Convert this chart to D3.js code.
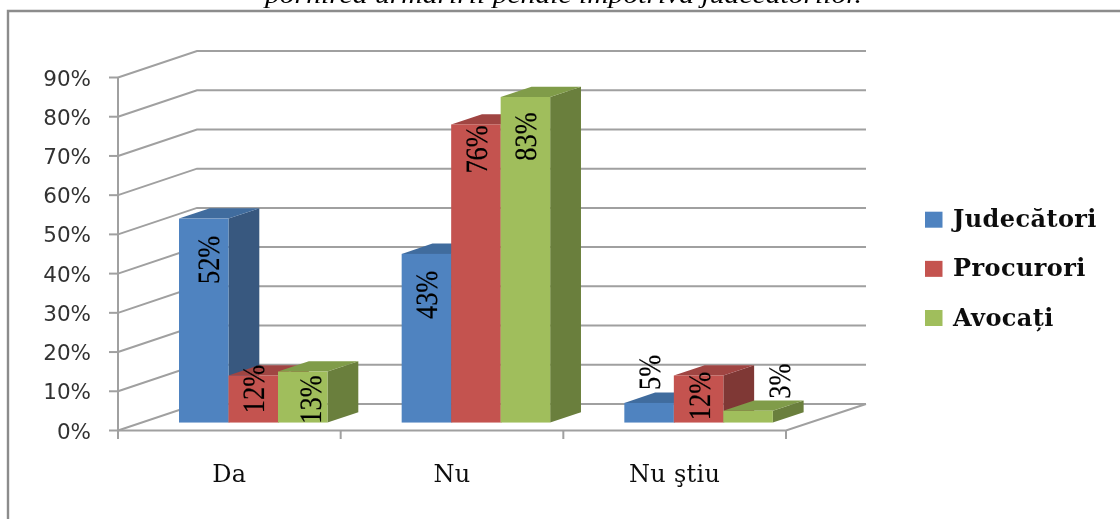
<!DOCTYPE html>
<html><head><meta charset="utf-8">
<script src="https://cdn.jsdelivr.net/npm/d3@7/dist/d3.min.js"></script>
<style>html,body{margin:0;padding:0;background:#fff}svg{display:block}</style>
</head><body><svg id="c" width="1120" height="519"></svg>
<script>
const categories = ["Da", "Nu", "Nu ştiu"];
const seriesNames = ["Judecători", "Procurori", "Avocați"];
const judecatori = [52, 43, 5];
const procurori = [12, 76, 12];
const avocati = [13, 83, 3];
const yTicks = [0, 10, 20, 30, 40, 50, 60, 70, 80, 90];
const titleText = "pornirea urmăririi penale împotriva judecătorilor.";
const front = ["#5083C0", "#C4534F", "#A0BE5C"];
const side = ["#38587F", "#7F3735", "#6A7F3D"];
const topc = ["#416C9E", "#A04443", "#809C49"];

// label placement relative to each bar's centre and top edge: [series][category]
const labelDx = [[4.5, 0.5, 0.5], [0.5, 0.5, 1], [7.5, 0, 31.5]];
const labelDy = [[41.3, 41, -30.5], [13.5, 25, 20.5], [28, 39.5, -29.7]];

const series = [judecatori, procurori, avocati];
const svg = d3.select("#c");
const defs = svg.append("defs");
defs.append("filter").attr("id", "soft").attr("x", "-5%").attr("y", "-5%").attr("width", "110%").attr("height", "110%")
  .append("feGaussianBlur").attr("stdDeviation", 0.45);
const g = svg.append("g").attr("filter", "url(#soft)");

const y = d3.scaleLinear().domain([0, 90]).range([430.5, 77.5]);
const x = d3.scaleBand().domain(categories).range([118, 786]);
const sub = d3.scaleBand().domain(d3.range(3)).range([61, 61 + 148.5]);
const depthX = d3.scaleLinear().domain([0, 1]).range([0, 79]);
const depthY = d3.scaleLinear().domain([0, 1]).range([0, -26.5]);
const grey = "#a0a0a0";

// title fragment and frame
g.append("text").attr("x", 265).attr("y", 3)
  .attr("font-family", "Liberation Serif").attr("font-style", "italic").attr("font-size", 26)
  .attr("textLength", 597).attr("lengthAdjust", "spacingAndGlyphs")
  .attr("fill", "#000").text(titleText);
g.append("path").attr("d", "M8,519V11H1120").attr("fill", "none").attr("stroke", "#8c8c8c").attr("stroke-width", 2.4);

// walls
const gridG = g.append("g").attr("fill", "none").attr("stroke", grey).attr("stroke-width", 2);
yTicks.forEach(t => {
  const yy = y(t), bx = x.range()[0] + depthX(1), by = yy + depthY(1);
  gridG.append("path").attr("d", d3.line()([[x.range()[0], yy], [bx, by], [866, by]]));
  gridG.append("path").attr("d", d3.line()([[109, yy], [x.range()[0], yy]]));
});
gridG.append("path").attr("d", d3.line()([[118, y(90)], [118, 439]]));
gridG.append("path").attr("d", d3.line()([[118, y(0)], [786, y(0)], [866, y(0) + depthY(1)]]));
categories.forEach(c => gridG.append("path").attr("d", d3.line()([[x(c) + x.bandwidth(), y(0)], [x(c) + x.bandwidth(), 439]])));

// bars
const d0 = 0.3, d1 = 0.69;
const poly = pts => d3.line()(pts) + "Z";
categories.forEach((c, ci) => {
  series.forEach((s, si) => {
    const v = s[ci];
    const dy0 = depthY(d0);
    const yT = y(v) + dy0, yB = y(0) + dy0;
    const a = x(c) + sub(si), b = a + sub.bandwidth();
    const ddx = depthX(d1) - depthX(d0), ddy = depthY(d1) - depthY(d0);
    const barG = g.append("g");
    barG.append("path").attr("d", poly([[b, yB], [b + ddx, yB + ddy], [b + ddx, yT + ddy], [b, yT]])).attr("fill", side[si]);
    barG.append("path").attr("d", poly([[a, yT], [a + ddx, yT + ddy], [b + ddx, yT + ddy], [b, yT]])).attr("fill", topc[si]);
    barG.append("rect").attr("x", a).attr("y", yT).attr("width", b - a).attr("height", yB - yT).attr("fill", front[si]);
  });
});

// value labels
categories.forEach((c, ci) => {
  series.forEach((s, si) => {
    const yT = y(s[ci]) + depthY(d0);
    const cx = x(c) + sub(si) + sub.bandwidth() / 2 + labelDx[si][ci];
    const cy = yT + labelDy[si][ci];
    g.append("text").attr("transform", `translate(${cx + 10.5},${cy}) rotate(-90) scale(0.85,1)`)
      .attr("text-anchor", "middle").attr("font-family", "'Liberation Serif','Times New Roman',serif").attr("font-size", 31)
      .attr("text-rendering", "geometricPrecision").attr("stroke", "#000").attr("stroke-width", 0.2)
      .attr("fill", "#000").text(s[ci] + "%");
  });
});

// axis labels
yTicks.forEach(t => g.append("text").attr("x", 91).attr("y", y(t) + 8).attr("text-anchor", "end")
  .attr("font-family", "DejaVu Sans").attr("font-size", 21.5).attr("fill", "#333").text(t + "%"));
categories.forEach(c => g.append("text").attr("x", x(c) + x.bandwidth() / 2).attr("y", 482).attr("text-anchor", "middle")
  .attr("font-family", "DejaVu Serif").attr("font-size", 24).attr("letter-spacing", 0.3).attr("fill", "#111").text(c));

// legend
const legY = d3.scalePoint().domain(seriesNames).range([219.7, 318]);
seriesNames.forEach((n, i) => {
  g.append("rect").attr("x", 925).attr("y", legY(n) - 8).attr("width", 17.5).attr("height", 16).attr("fill", front[i]);
  g.append("text").attr("x", 953).attr("y", legY(n) + 7.5).attr("font-family", "DejaVu Serif").attr("font-weight", "bold")
    .attr("font-size", 24).attr("letter-spacing", 0.4).attr("fill", "#111").text(n);
});
</script></body></html>
